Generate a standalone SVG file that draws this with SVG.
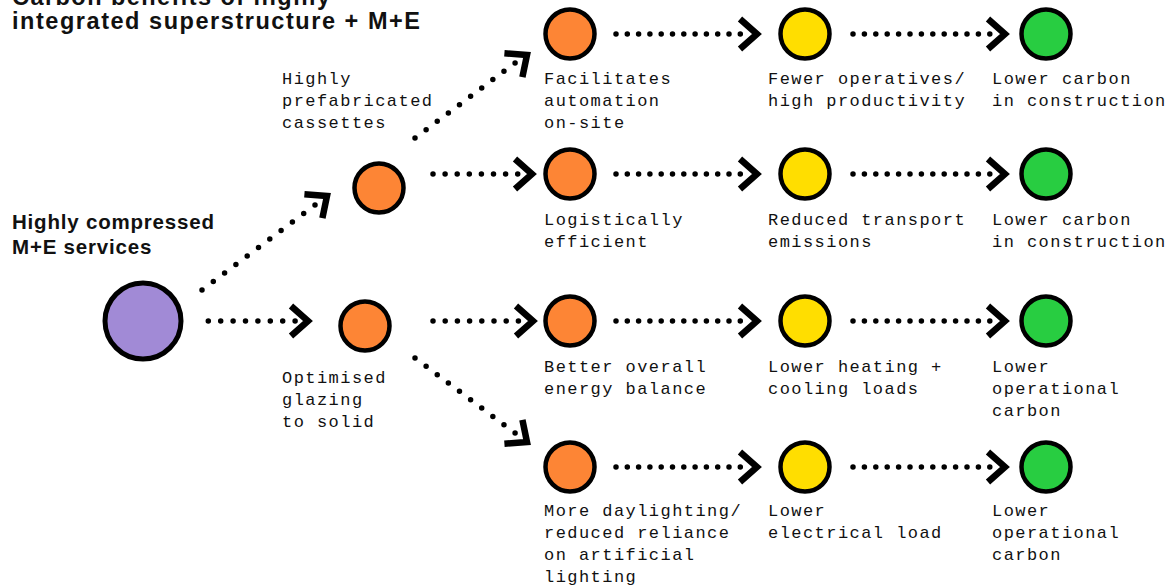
<svg xmlns="http://www.w3.org/2000/svg" xmlns:xlink="http://www.w3.org/1999/xlink" width="1171" height="588" viewBox="0 0 1171 588">
<defs>
<style>
.bg{fill:#ffffff}
.nd{stroke:#000;stroke-width:4.5}
.or{fill:#FD8535}
.ye{fill:#FFDE00}
.gr{fill:#28CD41}
.pu{fill:#A18AD6}
.lbl{font-family:"Liberation Mono","DejaVu Sans Mono",monospace;font-size:17px;letter-spacing:1.45px;fill:#111}
.hd{font-family:"Liberation Sans",Arial,sans-serif;font-weight:bold;fill:#111}
.dot{stroke:#000;stroke-width:5.5;stroke-linecap:round;fill:none}
.chev{stroke:#000;stroke-width:6.5;stroke-linejoin:miter;stroke-linecap:butt;fill:none}
</style>
<path id="chev" class="chev" d="M-17,-15 L0,0 L-17,15"/>
</defs>
<rect class="bg" x="0" y="0" width="1171" height="588"/>

<g id="title">
<text class="hd" x="12" y="4.5" font-size="23.5" textLength="318" lengthAdjust="spacing">Carbon benefits of highly</text>
<text class="hd" x="12" y="28.5" font-size="23.5" textLength="408" lengthAdjust="spacing">integrated superstructure + M+E</text>
</g>

<g id="connectors">
<line class="dot" x1="208.3" y1="321" x2="296" y2="321" stroke-dasharray="0 12.4"/>
<use xlink:href="#chev" transform="translate(308,321)"/>
<line class="dot" x1="433" y1="174" x2="518" y2="174" stroke-dasharray="0 12.1"/>
<use xlink:href="#chev" transform="translate(532,174)"/>
<line class="dot" x1="433" y1="321" x2="519" y2="321" stroke-dasharray="0 12.2"/>
<use xlink:href="#chev" transform="translate(533,321)"/>

<line class="dot" x1="616" y1="34" x2="741" y2="34" stroke-dasharray="0 11.3"/>
<use xlink:href="#chev" transform="translate(757,34)"/>
<line class="dot" x1="853" y1="34" x2="991" y2="34" stroke-dasharray="0 11.4"/>
<use xlink:href="#chev" transform="translate(1005,34)"/>

<line class="dot" x1="616" y1="174" x2="741" y2="174" stroke-dasharray="0 11.3"/>
<use xlink:href="#chev" transform="translate(757,174)"/>
<line class="dot" x1="853" y1="174" x2="991" y2="174" stroke-dasharray="0 11.4"/>
<use xlink:href="#chev" transform="translate(1005,174)"/>

<line class="dot" x1="616" y1="321" x2="741" y2="321" stroke-dasharray="0 11.3"/>
<use xlink:href="#chev" transform="translate(757,321)"/>
<line class="dot" x1="853" y1="321" x2="991" y2="321" stroke-dasharray="0 11.4"/>
<use xlink:href="#chev" transform="translate(1005,321)"/>

<line class="dot" x1="616" y1="467" x2="741" y2="467" stroke-dasharray="0 11.3"/>
<use xlink:href="#chev" transform="translate(757,467)"/>
<line class="dot" x1="853" y1="467" x2="991" y2="467" stroke-dasharray="0 11.4"/>
<use xlink:href="#chev" transform="translate(1005,467)"/>

<line class="dot" x1="202" y1="290" x2="315.4" y2="204.7" stroke-dasharray="0 14.14"/>
<use xlink:href="#chev" transform="translate(327,196) rotate(-36.9)"/>
<line class="dot" x1="415" y1="138" x2="515.4" y2="62.7" stroke-dasharray="0 13.9"/>
<use xlink:href="#chev" transform="translate(527,55) rotate(-36.9)"/>
<line class="dot" x1="415" y1="358" x2="515.4" y2="433.3" stroke-dasharray="0 13.9"/>
<use xlink:href="#chev" transform="translate(527,442) rotate(36.9)"/>
</g>

<g id="n-source">
<circle class="pu" cx="143" cy="321" r="38" stroke="#000" stroke-width="5"/>
<text class="hd" font-size="20.5" letter-spacing="0.8"><tspan x="12" y="229">Highly compressed</tspan><tspan x="12" y="254">M+E services</tspan></text>
</g>

<g id="n-cassettes">
<circle class="nd or" cx="379" cy="188" r="24.5"/>
<text class="lbl"><tspan x="282" y="84">Highly</tspan><tspan x="282" y="106">prefabricated</tspan><tspan x="282" y="128">cassettes</tspan></text>
</g>

<g id="n-glazing">
<circle class="nd or" cx="365" cy="326" r="24.5"/>
<text class="lbl"><tspan x="282" y="383">Optimised</tspan><tspan x="282" y="405">glazing</tspan><tspan x="282" y="427">to solid</tspan></text>
</g>

<g id="n-automation">
<circle class="nd or" cx="570" cy="34" r="24.5"/>
<text class="lbl"><tspan x="544" y="84">Facilitates</tspan><tspan x="544" y="106">automation</tspan><tspan x="544" y="128">on-site</tspan></text>
</g>
<g id="n-operatives">
<circle class="nd ye" cx="805" cy="34" r="24.5"/>
<text class="lbl"><tspan x="768" y="84">Fewer operatives/</tspan><tspan x="768" y="106">high productivity</tspan></text>
</g>
<g id="n-carbon1">
<circle class="nd gr" cx="1046" cy="34" r="24.5"/>
<text class="lbl"><tspan x="992" y="84">Lower carbon</tspan><tspan x="992" y="106">in construction</tspan></text>
</g>

<g id="n-logistics">
<circle class="nd or" cx="570" cy="174" r="24.5"/>
<text class="lbl"><tspan x="544" y="225">Logistically</tspan><tspan x="544" y="247">efficient</tspan></text>
</g>
<g id="n-transport">
<circle class="nd ye" cx="805" cy="174" r="24.5"/>
<text class="lbl"><tspan x="768" y="225">Reduced transport</tspan><tspan x="768" y="247">emissions</tspan></text>
</g>
<g id="n-carbon2">
<circle class="nd gr" cx="1046" cy="174" r="24.5"/>
<text class="lbl"><tspan x="992" y="225">Lower carbon</tspan><tspan x="992" y="247">in construction</tspan></text>
</g>

<g id="n-energy">
<circle class="nd or" cx="570" cy="321" r="24.5"/>
<text class="lbl"><tspan x="544" y="372">Better overall</tspan><tspan x="544" y="394">energy balance</tspan></text>
</g>
<g id="n-heating">
<circle class="nd ye" cx="805" cy="321" r="24.5"/>
<text class="lbl"><tspan x="768" y="372">Lower heating +</tspan><tspan x="768" y="394">cooling loads</tspan></text>
</g>
<g id="n-operational1">
<circle class="nd gr" cx="1046" cy="321" r="24.5"/>
<text class="lbl"><tspan x="992" y="372">Lower</tspan><tspan x="992" y="394">operational</tspan><tspan x="992" y="416">carbon</tspan></text>
</g>

<g id="n-daylight">
<circle class="nd or" cx="570" cy="467" r="24.5"/>
<text class="lbl"><tspan x="544" y="516">More daylighting/</tspan><tspan x="544" y="538">reduced reliance</tspan><tspan x="544" y="560">on artificial</tspan><tspan x="544" y="582">lighting</tspan></text>
</g>
<g id="n-electrical">
<circle class="nd ye" cx="805" cy="467" r="24.5"/>
<text class="lbl"><tspan x="768" y="516">Lower</tspan><tspan x="768" y="538">electrical load</tspan></text>
</g>
<g id="n-operational2">
<circle class="nd gr" cx="1046" cy="467" r="24.5"/>
<text class="lbl"><tspan x="992" y="516">Lower</tspan><tspan x="992" y="538">operational</tspan><tspan x="992" y="560">carbon</tspan></text>
</g>
</svg>
